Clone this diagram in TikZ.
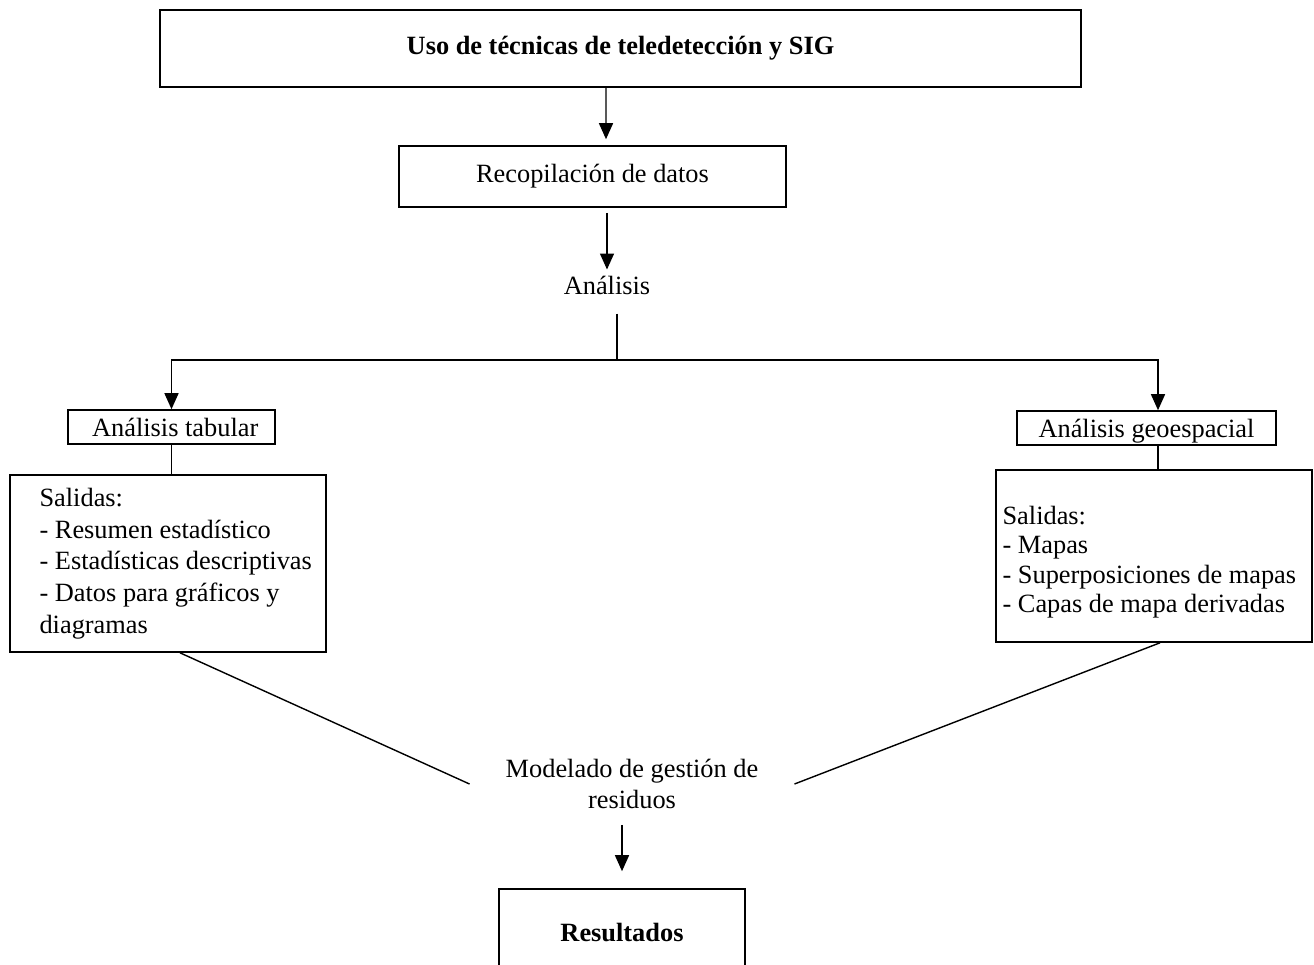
\documentclass[tikz,border=0pt]{standalone}
\usepackage{fontspec}
\setmainfont{Liberation Serif}
\usetikzlibrary{arrows.meta}
\tikzset{
	box/.style={draw, line width=0.9pt, inner sep=0pt},
	smallbox/.style={box, minimum height=0.68cm, text height=0.46cm, text depth=0.1cm},
	outbox/.style={draw, line width=0.9pt, minimum width=6.32cm},
	outtext/.style={anchor=west, align=left, inner sep=0pt},
	arr/.style={-{Triangle[length=0.32cm, width=0.28cm]}, line width=0.8pt},
	con/.style={line width=0.8pt}
}
\begin{document}
\begin{tikzpicture}[font=\fontsize{15}{18}\selectfont]
		%%%%% START %%%%%
		\useasboundingbox (0, 0) rectangle (26.28, -19.28);
		\clip (0, 0) rectangle (26.28, -19.28);
		
		\node[box, minimum width=18.42cm, minimum height=1.54cm, font=\fontsize{15}{18}\selectfont\bfseries] (top) at (12.41, -0.97) {Uso de técnicas de teledetección y SIG};
		\node[box, minimum width=7.74cm, minimum height=1.22cm] (rec) at (11.85, -3.53) {Recopilación de datos};
		\node (ana) at (12.14, -5.70) {Análisis};
		\coordinate (split) at (12.34, -7.20);
		
		\node[smallbox, minimum width=4.14cm] (tab) at (3.43, -8.54) {\hspace{0.15cm}Análisis tabular};
		\node[smallbox, minimum width=5.18cm] (geo) at (22.93, -8.56) {Análisis geoespacial};
		
		\node[outbox, minimum height=3.54cm,
			label={[outtext, xshift=0.6cm]west:{Salidas:\\- Resumen estadístico\\- Estadísticas descriptivas\\- Datos para gráficos y\\diagramas}}]
			(outL) at (3.36, -11.27) {};
		\node[outbox, minimum height=3.44cm,
			label={[outtext, xshift=0.14cm, yshift=-0.12cm, font=\fontsize{15}{16.8}\selectfont]west:{Salidas:\\- Mapas\\- Superposiciones de mapas\\- Capas de mapa derivadas}}]
			(outR) at (23.08, -11.12) {};
		
		\node[align=center, font=\fontsize{15}{17.6}\selectfont] (model) at (12.64, -15.68) {Modelado de gestión de\\residuos};
		\node[box, minimum width=4.92cm, minimum height=1.72cm, font=\fontsize{15}{18}\selectfont\bfseries] (res) at (12.44, -18.64) {Resultados};
		
		\draw[arr, shorten >=0.12cm] ([xshift=-0.29cm]top.south) -- ([xshift=0.27cm]rec.north);
		\draw[arr, shorten <=0.1cm] (rec.south -| ana.north) -- (ana.north);
		\draw[con, shorten <=0.26cm] (ana.south -| split) -- (split);
		\draw[arr] (split) -| (tab.north);
		\draw[arr] (split) -| ([xshift=0.23cm]geo.north);
		\draw[con] (tab.south) -- (tab.south |- outL.north);
		\draw[con] ([xshift=0.23cm]geo.south) -- ([xshift=0.23cm]geo.south |- outR.north);
		
		\draw[con] ([xshift=0.24cm]outL.south) -- ([xshift=-0.6cm]model.west);
		\draw[con] ([xshift=0.12cm]outR.south) -- ([xshift=0.6cm]model.east);
		\draw[arr, shorten <=0.2cm, shorten >=0.34cm] (model.south -| res.north) -- (res.north);
		%%%%% END %%%%%
	\end{tikzpicture}
\end{document}
